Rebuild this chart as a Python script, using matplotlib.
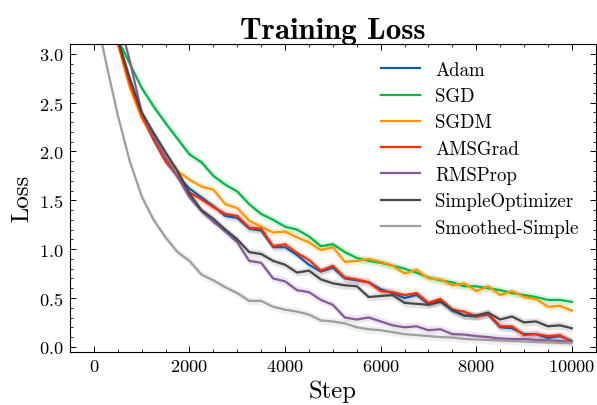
import matplotlib
matplotlib.use("Agg")
import matplotlib.pyplot as plt
import numpy as np

# style close to SciencePlots "science"
plt.rcParams['font.family'] = ['cmr10', 'DejaVu Serif']
plt.rcParams['axes.formatter.use_mathtext'] = True
plt.rcParams['xtick.direction'] = 'in'
plt.rcParams['ytick.direction'] = 'in'
plt.rcParams['xtick.top'] = True
plt.rcParams['ytick.right'] = True
plt.rcParams['xtick.minor.visible'] = True
plt.rcParams['ytick.minor.visible'] = True

# Data (every 250 steps)
steps = np.arange(0, 10001, 250)

adam = [4.0, 3.6, 3.12, 2.70, 2.37, 2.12, 1.90, 1.75,
        1.62, 1.53, 1.44, 1.34, 1.32, 1.21, 1.19, 1.02, 1.02, 0.94, 0.84, 0.77, 0.81,
        0.70, 0.68, 0.66, 0.59, 0.55, 0.50, 0.53, 0.44, 0.47, 0.37, 0.32, 0.31, 0.33,
        0.20, 0.19, 0.13, 0.13, 0.09, 0.11, 0.06]
sgd = [4.1, 3.7, 3.15, 2.90, 2.65, 2.46, 2.29, 2.13,
       1.97, 1.89, 1.75, 1.66, 1.59, 1.46, 1.36, 1.30, 1.23, 1.20, 1.13, 1.03, 1.05,
       0.97, 0.91, 0.88, 0.86, 0.83, 0.80, 0.76, 0.71, 0.68, 0.66, 0.62, 0.62, 0.60,
       0.58, 0.55, 0.53, 0.51, 0.48, 0.48, 0.46]
sgdm = [4.0, 3.55, 3.10, 2.65, 2.34, 2.13, 1.93, 1.80,
        1.71, 1.64, 1.61, 1.46, 1.42, 1.29, 1.23, 1.17, 1.18, 1.12, 1.07, 0.99, 1.02,
        0.87, 0.88, 0.90, 0.87, 0.83, 0.75, 0.79, 0.70, 0.69, 0.63, 0.65, 0.57, 0.62,
        0.53, 0.57, 0.51, 0.49, 0.41, 0.42, 0.37]
amsgrad = [4.0, 3.6, 3.12, 2.70, 2.37, 2.12, 1.90, 1.75,
           1.58, 1.51, 1.43, 1.36, 1.34, 1.22, 1.21, 1.03, 1.05, 0.96, 0.89, 0.78, 0.83,
           0.71, 0.69, 0.66, 0.57, 0.56, 0.53, 0.55, 0.45, 0.49, 0.38, 0.36, 0.31, 0.34,
           0.21, 0.21, 0.12, 0.13, 0.11, 0.12, 0.05]
rmsprop = [4.3, 3.9, 3.4, 2.93, 2.40, 2.15, 1.94, 1.74,
           1.53, 1.39, 1.28, 1.18, 1.07, 0.88, 0.86, 0.70, 0.67, 0.58, 0.56, 0.48, 0.43,
           0.30, 0.28, 0.30, 0.26, 0.22, 0.20, 0.21, 0.17, 0.18, 0.13, 0.125, 0.11, 0.10,
           0.085, 0.08, 0.08, 0.07, 0.065, 0.06, 0.05]
simple = [4.0, 3.6, 3.15, 2.75, 2.40, 2.19, 1.99, 1.80,
          1.57, 1.40, 1.31, 1.20, 1.10, 0.97, 0.95, 0.88, 0.84, 0.76, 0.78, 0.69, 0.65,
          0.63, 0.62, 0.51, 0.52, 0.53, 0.45, 0.44, 0.43, 0.46, 0.38, 0.32, 0.32, 0.35,
          0.28, 0.31, 0.25, 0.26, 0.21, 0.22, 0.19]
smoothed = [3.5, 2.92, 2.37, 1.90, 1.54, 1.30, 1.12, 0.97,
            0.88, 0.74, 0.68, 0.61, 0.55, 0.47, 0.47, 0.41, 0.38, 0.36, 0.33, 0.27, 0.26,
            0.24, 0.20, 0.18, 0.17, 0.15, 0.13, 0.12, 0.11, 0.10, 0.095, 0.08, 0.075, 0.07,
            0.065, 0.06, 0.055, 0.05, 0.045, 0.04, 0.04]

labels = ['Adam', 'SGD', 'SGDM', 'AMSGrad', 'RMSProp', 'SimpleOptimizer', 'Smoothed-Simple']
series = [adam, sgd, sgdm, amsgrad, rmsprop, simple, smoothed]
colors = ['#0C5DA5', '#00B945', '#FF9500', '#FF2C00', '#845B97', '#474747', '#9e9e9e']
band = 0.04  # half width of the shaded spread

fig = plt.figure(figsize=(5.97, 4.06), dpi=100)
ax = fig.add_axes([70 / 597, 1 - 352.7 / 406, 525.7 / 597, 307.7 / 406])

for y, lab, c in zip(series, labels, colors):
    y = np.array(y)
    ax.fill_between(steps, y - band, y + band, color=c, alpha=0.15, lw=0)
    ax.plot(steps, y, color=c, lw=1.6, label=lab)

ax.set_xlim(-500, 10500)
ax.set_ylim(-0.05, 3.1)
ax.set_xticks([0, 2000, 4000, 6000, 8000, 10000])
ax.set_xticks(np.arange(-500, 10501, 500), minor=True)
ax.set_yticks([0.0, 0.5, 1.0, 1.5, 2.0, 2.5, 3.0])
ax.set_yticks(np.arange(0, 3.11, 0.1), minor=True)
ax.tick_params(which='major', length=4.2, width=0.7, labelsize=13.2, pad=4.5)
ax.tick_params(which='minor', length=2.1, width=0.6)
for s in ax.spines.values():
    s.set_linewidth(0.8)

ax.set_xlabel('Step', fontsize=17.8, labelpad=4)
ax.set_ylabel('Loss', fontsize=17.8, labelpad=4)
ax.set_title('Training Loss', fontsize=22.3, fontfamily='cmb10', pad=3)

ax.legend(loc='upper right', frameon=False, fontsize=13.6, handlelength=2.1,
          handletextpad=0.8, labelspacing=0.44)

fig.savefig('out.png', dpi=100)
